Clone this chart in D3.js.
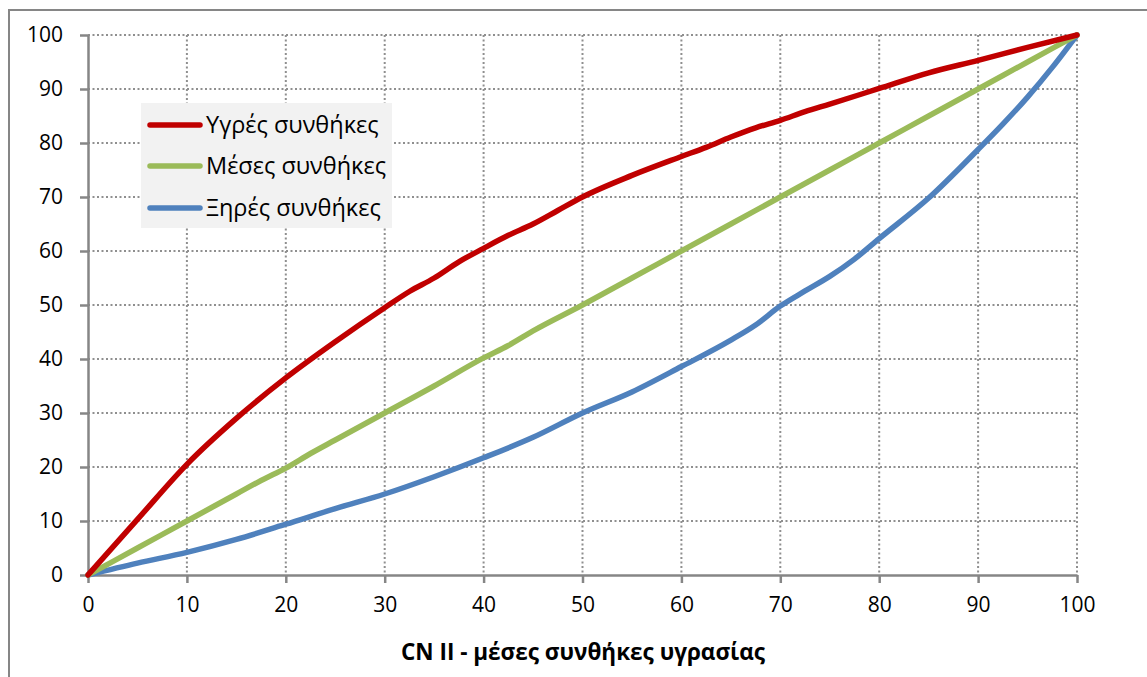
<!DOCTYPE html>
<html>
<head>
<meta charset="utf-8">
<script src="https://cdnjs.cloudflare.com/ajax/libs/d3/7.8.5/d3.min.js"></script>
<style>
  html, body { margin: 0; padding: 0; background: #fff; }
  svg { display: block; }
  text { font-family: "Open Sans", "Liberation Sans", sans-serif; fill: #000; }
</style>
</head>
<body>
<svg id="chart" width="1147" height="677"></svg>
<script>
// Curve values (x = CN II, y = converted CN)
const wetX  = [0, 5, 10, 15, 20, 25, 30, 32.5, 35, 37.5, 40, 42.5, 45, 47.5, 50, 55, 60, 62.5, 65, 67.5, 70, 72.5, 75, 80, 85, 90, 95, 100];
const wetY  = [0, 10.3, 20.5, 29, 36.5, 43.2, 49.5, 52.5, 55, 58, 60.5, 62.9, 65, 67.5, 70, 74, 77.5, 79.2, 81.1, 82.8, 84.2, 85.8, 87.2, 90.1, 93, 95.3, 97.7, 100];
const midX  = [0, 5, 10, 15, 17.5, 20, 22.5, 25, 30, 35, 40, 42.5, 45, 50, 55, 60, 65, 70, 72.5, 75, 80, 85, 90, 95, 100];
const midY  = [0, 5, 10, 15, 17.5, 19.8, 22.5, 25, 30, 35, 40.2, 42.5, 45.2, 50, 55, 60, 65, 70, 72.5, 75, 80, 85, 90, 95, 100];
const dryX  = [0, 5, 10, 15, 20, 25, 30, 35, 40, 45, 50, 55, 60, 65, 67.5, 70, 72.5, 75, 77.5, 80, 85, 90, 92.5, 95, 97.5, 100];
const dryY  = [0, 2.2, 4.2, 6.6, 9.4, 12.3, 15, 18.2, 21.7, 25.5, 30, 33.9, 38.6, 43.5, 46.3, 49.8, 52.6, 55.3, 58.5, 62.3, 69.8, 78.8, 83.5, 88.5, 94, 100];

const seriesNames  = ["Υγρές συνθήκες", "Μέσες συνθήκες", "Ξηρές συνθήκες"];
const seriesColors = ["#C00000", "#9BBB59", "#4F81BD"];
const xTicks = [0, 10, 20, 30, 40, 50, 60, 70, 80, 90, 100];
const yTicks = [0, 10, 20, 30, 40, 50, 60, 70, 80, 90, 100];
const xTitle = "CN II - μέσες συνθήκες υγρασίας";

const series = [
  { name: seriesNames[0], color: seriesColors[0], pts: wetX.map((x, i) => [x, wetY[i]]) },
  { name: seriesNames[1], color: seriesColors[1], pts: midX.map((x, i) => [x, midY[i]]) },
  { name: seriesNames[2], color: seriesColors[2], pts: dryX.map((x, i) => [x, dryY[i]]) }
];

const svg = d3.select("#chart");
const plot = { left: 88, right: 1077, top: 35, bottom: 575 };

const x = d3.scaleLinear().domain([0, 100]).range([plot.left, plot.right]);
const y = d3.scaleLinear().domain([0, 100]).range([plot.bottom, plot.top]);

// chart area frame
svg.append("rect")
  .attr("x", 9).attr("y", 10)
  .attr("width", 1160).attr("height", 700)
  .attr("fill", "#fff")
  .attr("stroke", "#868686").attr("stroke-width", 2);

const gridColor = "#8f8f8f";
const axisColor = "#868686";

// gridlines
const grid = svg.append("g");
grid.selectAll("line.h").data(yTicks.filter(d => d > 0)).join("line")
  .attr("x1", plot.left).attr("x2", plot.right)
  .attr("y1", d => y(d)).attr("y2", d => y(d))
  .attr("stroke", gridColor).attr("stroke-width", 2)
  .attr("stroke-dasharray", "2,2.5");
grid.selectAll("line.v").data(xTicks.filter(d => d > 0)).join("line")
  .attr("x1", d => x(d)).attr("x2", d => x(d))
  .attr("y1", plot.top).attr("y2", plot.bottom)
  .attr("stroke", gridColor).attr("stroke-width", 2)
  .attr("stroke-dasharray", "2,2.5");

// axes
const xAxis = svg.append("g")
  .attr("transform", `translate(0,${plot.bottom})`)
  .call(d3.axisBottom(x).tickValues(xTicks).tickSize(8).tickPadding(14).tickSizeOuter(0));
const yAxis = svg.append("g")
  .attr("transform", `translate(${plot.left},0)`)
  .call(d3.axisLeft(y).tickValues(yTicks).tickSize(8).tickPadding(17).tickSizeOuter(0));

[xAxis, yAxis].forEach(g => {
  g.select(".domain").attr("stroke", axisColor).attr("stroke-width", 2.5);
  g.selectAll(".tick line").attr("stroke", axisColor).attr("stroke-width", 2.5);
  g.selectAll(".tick text")
    .attr("font-family", "'Open Sans', sans-serif")
    .attr("font-size", 21)
    .attr("fill", "#000");
});

// curves
const line = d3.line().x(d => x(d[0])).y(d => y(d[1])).curve(d3.curveMonotoneX);
svg.append("g").selectAll("path").data(series.slice().reverse()).join("path")
  .attr("d", d => line(d.pts))
  .attr("fill", "none")
  .attr("stroke", d => d.color)
  .attr("stroke-width", 5.5)
  .attr("stroke-linejoin", "round")
  .attr("stroke-linecap", "round");

// legend
const legend = svg.append("g");
legend.append("rect")
  .attr("x", 141).attr("y", 103)
  .attr("width", 251).attr("height", 125)
  .attr("fill", "#f2f2f2");
const rowY = [125, 166, 208];
const items = legend.selectAll("g.item").data(series).join("g")
  .attr("transform", (d, i) => `translate(0,${rowY[i]})`);
items.append("line")
  .attr("x1", 150).attr("x2", 200)
  .attr("stroke", d => d.color).attr("stroke-width", 5.5)
  .attr("stroke-linecap", "round");
items.append("text")
  .attr("x", 206).attr("dy", "0.35em")
  .attr("font-size", 23.5)
  .text(d => d.name);

// x-axis title
svg.append("text")
  .attr("x", 583)
  .attr("y", 652)
  .attr("dy", "0.35em")
  .attr("text-anchor", "middle")
  .attr("font-size", 22.5)
  .attr("font-weight", "bold")
  .text(xTitle);
</script>
</body>
</html>
